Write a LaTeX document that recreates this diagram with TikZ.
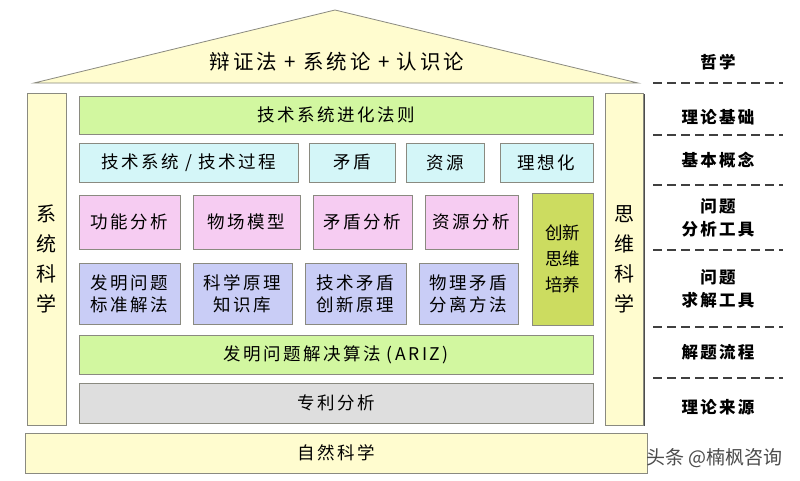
\documentclass[tikz,border=0pt]{standalone}
\usepackage{fontspec}
\newfontfamily\cjk[LetterSpace=14]{Noto Sans CJK SC}
\newfontfamily\cjkplain{Noto Sans CJK SC}
\usetikzlibrary{shadows}
\definecolor{roofyellow}{HTML}{FFFCCF}
\definecolor{limegreen}{HTML}{D2F7A0}
\definecolor{lightcyan}{HTML}{D4F6F8}
\definecolor{lightpink}{HTML}{F6CCF2}
\definecolor{lavender}{HTML}{C9CDF6}
\definecolor{olivebox}{HTML}{CCDC60}
\definecolor{greybox}{HTML}{DEDEDE}
\definecolor{edgegrey}{HTML}{8A8A80}
\tikzset{
  box/.style={draw=edgegrey, line width=0.8pt, rectangle, inner sep=0pt,
    align=center, font=\cjk\fontsize{17.5}{22}\selectfont, text=black,
    drop shadow={shadow xshift=1.2pt, shadow yshift=-1.2pt, fill=black!70, opacity=1}},
  pillar/.style={box, fill=roofyellow, font=\cjkplain\fontsize{20}{30}\selectfont},
  sidelabel/.style={font=\cjk\bfseries\fontsize{16.5}{21}\selectfont, align=center, text=black},
  sep/.style={dashed, dash pattern=on 9pt off 5pt, line width=1.2pt, draw=black!75}
}
\begin{document}
\begin{tikzpicture}[x=1pt,y=-1pt]
\path[use as bounding box, fill=white] (0,0) rectangle (800,480);
% roof
\coordinate (roofL) at (34,83);
\coordinate (roofT) at (335,10);
\coordinate (roofR) at (638,83);
\draw[fill=roofyellow, draw=edgegrey, line width=0.8pt] (roofL) -- (roofT) -- (roofR) -- cycle;
\node[font=\cjk\fontsize{20.5}{24}\selectfont, text=black] (roof) at (337,62) {辩证法 + 系统论 + 认识论};
% pillars
\node[pillar, minimum width=39pt, minimum height=332pt] (lp) at (46.5,259) {系\\统\\科\\学};
\node[pillar, minimum width=38pt, minimum height=332pt] (rp) at (624.5,259) {思\\维\\科\\学};
% top bar
\node[box, fill=limegreen, minimum width=514pt, minimum height=38pt] (law) at (336,115) {技术系统进化法则};
% cyan row
\node[box, fill=lightcyan, minimum width=219pt, minimum height=39pt] (c1) at (188.5,162.5) {技术系统 / 技术过程};
\node[box, fill=lightcyan, minimum width=86pt, minimum height=39pt] (c2) at (352,162.5) {矛盾};
\node[box, fill=lightcyan, minimum width=78pt, minimum height=39pt] (c3) at (445,162.5) {资源};
\node[box, fill=lightcyan, minimum width=93pt, minimum height=39pt] (c4) at (546.5,162.5) {理想化};
% pink row
\node[box, fill=lightpink, minimum width=101pt, minimum height=54pt] (p1) at (129.5,222) {功能分析};
\node[box, fill=lightpink, minimum width=107pt, minimum height=54pt] (p2) at (246.5,222) {物场模型};
\node[box, fill=lightpink, minimum width=99pt, minimum height=54pt] (p3) at (362.5,222) {矛盾分析};
\node[box, fill=lightpink, minimum width=93pt, minimum height=54pt] (p4) at (471.5,222) {资源分析};
% lavender row
\node[box, fill=lavender, minimum width=101pt, minimum height=61pt] (l1) at (129.5,293.5) {发明问题\\标准解法};
\node[box, fill=lavender, minimum width=99pt, minimum height=61pt] (l2) at (242.5,293.5) {科学原理\\知识库};
\node[box, fill=lavender, minimum width=101pt, minimum height=61pt] (l3) at (355.5,293.5) {技术矛盾\\创新原理};
\node[box, fill=lavender, minimum width=99pt, minimum height=61pt] (l4) at (468.5,293.5) {物理矛盾\\分离方法};
% olive
\node[box, fill=olivebox, minimum width=61pt, minimum height=132pt, font=\cjkplain\fontsize{17.5}{26}\selectfont] (inn) at (562.5,259) {创新\\思维\\培养};
% ARIZ
\node[box, fill=limegreen, minimum width=514pt, minimum height=39pt] (ariz) at (336,354.5) {发明问题解决算法 (ARIZ)};
% patent
\node[box, fill=greybox, minimum width=514pt, minimum height=40pt] (pat) at (336,403) {专利分析};
% natural science
\node[box, fill=roofyellow, minimum width=622pt, minimum height=40pt] (nat) at (336,453) {自然科学};
% right labels
\node[sidelabel] (s1) at (718,62) {哲学};
\node[sidelabel] (s2) at (718,117) {理论基础};
\node[sidelabel] (s3) at (718,160) {基本概念};
\node[sidelabel, font=\cjk\bfseries\fontsize{16.5}{23}\selectfont] (s4) at (718,218) {问题\\分析工具};
\node[sidelabel, font=\cjk\bfseries\fontsize{16.5}{23}\selectfont] (s5) at (718,289) {问题\\求解工具};
\node[sidelabel] (s6) at (718,352) {解题流程};
\node[sidelabel] (s7) at (718,407) {理论来源};
\coordinate (d1a) at (653,83);  \coordinate (d1b) at (783,83);
\coordinate (d2a) at (653,135); \coordinate (d2b) at (783,135);
\coordinate (d3a) at (653,185); \coordinate (d3b) at (783,185);
\coordinate (d4a) at (653,250); \coordinate (d4b) at (783,250);
\coordinate (d5a) at (653,327); \coordinate (d5b) at (783,327);
\coordinate (d6a) at (653,378); \coordinate (d6b) at (783,378);
\foreach \i in {1,...,6} \draw[sep] (d\i a) -- (d\i b);
% watermark
\node[font=\cjkplain\fontsize{19}{22}\selectfont, text=black!70, anchor=east] (wm) at (786,458) {头条 @楠枫咨询};
\end{tikzpicture}
\end{document}
